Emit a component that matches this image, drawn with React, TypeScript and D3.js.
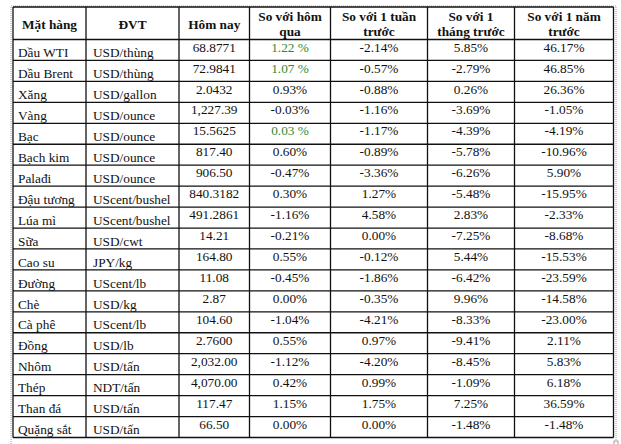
import React, { useEffect, useRef } from "react";
import * as d3 from "d3";

// header labels (each may be two lines)
const headers: string[][] = [
  ["Mặt hàng"],
  ["ĐVT"],
  ["Hôm nay"],
  ["So với hôm", "qua"],
  ["So với 1 tuần", "trước"],
  ["So với 1", "tháng trước"],
  ["So với 1 năm", "trước"],
];

const items = [
  "Dầu WTI", "Dầu Brent", "Xăng", "Vàng", "Bạc", "Bạch kim", "Palađi", "Đậu tương",
  "Lúa mì", "Sữa", "Cao su", "Đường", "Chè", "Cà phê", "Đồng", "Nhôm", "Thép", "Than đá", "Quặng sắt",
];
const units = [
  "USD/thùng", "USD/thùng", "USD/gallon", "USD/ounce", "USD/ounce", "USD/ounce", "USD/ounce",
  "UScent/bushel", "UScent/bushel", "USD/cwt", "JPY/kg", "UScent/lb", "USD/kg", "UScent/lb",
  "USD/lb", "USD/tấn", "NDT/tấn", "USD/tấn", "USD/tấn",
];
const today = [
  "68.8771", "72.9841", "2.0432", "1,227.39", "15.5625", "817.40", "906.50", "840.3182",
  "491.2861", "14.21", "164.80", "11.08", "2.87", "104.60", "2.7600", "2,032.00", "4,070.00",
  "117.47", "66.50",
];
const vsDay = [
  "1.22 %", "1.07 %", "0.93%", "-0.03%", "0.03 %", "0.60%", "-0.47%", "0.30%", "-1.16%",
  "-0.21%", "0.55%", "-0.45%", "0.00%", "-1.04%", "0.55%", "-1.12%", "0.42%", "1.15%", "0.00%",
];
const vsWeek = [
  "-2.14%", "-0.57%", "-0.88%", "-1.16%", "-1.17%", "-0.89%", "-3.36%", "1.27%", "4.58%",
  "0.00%", "-0.12%", "-1.86%", "-0.35%", "-4.21%", "0.97%", "-4.20%", "0.99%", "1.75%", "0.00%",
];
const vsMonth = [
  "5.85%", "-2.79%", "0.26%", "-3.69%", "-4.39%", "-5.78%", "-6.26%", "-5.48%", "2.83%",
  "-7.25%", "5.44%", "-6.42%", "9.96%", "-8.33%", "-9.41%", "-8.45%", "-1.09%", "7.25%", "-1.48%",
];
const vsYear = [
  "46.17%", "46.85%", "26.36%", "-1.05%", "-4.19%", "-10.96%", "5.90%", "-15.95%", "-2.33%",
  "-8.68%", "-15.53%", "-23.59%", "-14.58%", "-23.00%", "2.11%", "5.83%", "6.18%", "36.59%", "-1.48%",
];
// rows whose "so với hôm qua" cell is printed in green
const greenDay = ["Dầu WTI", "Dầu Brent", "Bạc"];

export default function App() {
  const ref = useRef<SVGSVGElement>(null);

  useEffect(() => {
    const svg = d3.select(ref.current);
    svg.selectAll("*").remove();

    const colEdges = [13, 86, 179, 249.5, 330.5, 427.5, 514.5, 613.5];
    const top = 7, headBottom = 39.5, bottom = 437.5;
    const font = "'Liberation Serif', 'Times New Roman', serif";

    const y = d3.scaleBand().domain(items).range([headBottom, bottom]).padding(0);
    const cols = [items, units, today, vsDay, vsWeek, vsMonth, vsYear];

    // dotted frame
    svg.append("rect").attr("x", 11).attr("y", 6).attr("width", 605).attr("height", 440)
      .attr("fill", "none").attr("stroke", "#a0a0a0").attr("stroke-dasharray", "1,1");
    svg.append("rect").attr("x", 614).attr("y", 441).attr("width", 4).attr("height", 4)
      .attr("fill", "white").attr("stroke", "#888").attr("stroke-width", 0.8);

    const g = svg.append("g");

    // horizontal lines
    const hLines = [top, headBottom, ...items.map(d => y(d)! + y.bandwidth())];
    g.selectAll(".h").data(hLines).join("line")
      .attr("x1", colEdges[0]).attr("x2", colEdges[colEdges.length - 1])
      .attr("y1", d => d).attr("y2", d => d)
      .attr("stroke", "#111").attr("stroke-width", 1.3);

    // vertical lines
    g.selectAll(".v").data(colEdges).join("line")
      .attr("x1", d => d).attr("x2", d => d)
      .attr("y1", top).attr("y2", bottom)
      .attr("stroke", "#111").attr("stroke-width", 1.3);

    // header
    headers.forEach((lines, i) => {
      const cx = (colEdges[i] + colEdges[i + 1]) / 2;
      const ys = lines.length === 1 ? [29] : [20.5, 35.5];
      lines.forEach((t, j) => {
        g.append("text").attr("x", cx).attr("y", ys[j]).attr("text-anchor", "middle")
          .style("font-family", font).style("font-size", "13.3px").style("font-weight", "bold")
          .attr("fill", "#111").text(t);
      });
    });

    // body cells
    cols.forEach((col, i) => {
      const left = i < 2;
      g.selectAll(".c" + i).data(col).join("text")
        .attr("x", left ? colEdges[i] + (i === 0 ? 5 : 7) : (colEdges[i] + colEdges[i + 1]) / 2)
        .attr("y", (d, k) => y(items[k])! + y.bandwidth() - (left ? 3.3 : 8.8))
        .attr("text-anchor", left ? "start" : "middle")
        .style("font-family", font).style("font-size", "13.3px")
        .attr("fill", (d, k) => (i === 3 && greenDay.includes(items[k]) ? "#2e8b34" : "#111"))
        .text(d => d);
    });
  }, []);

  return (
    <svg ref={ref} width={621} height={444}
      style={{ position: "absolute", left: 0, top: 0, background: "white" }} />
  );
}
